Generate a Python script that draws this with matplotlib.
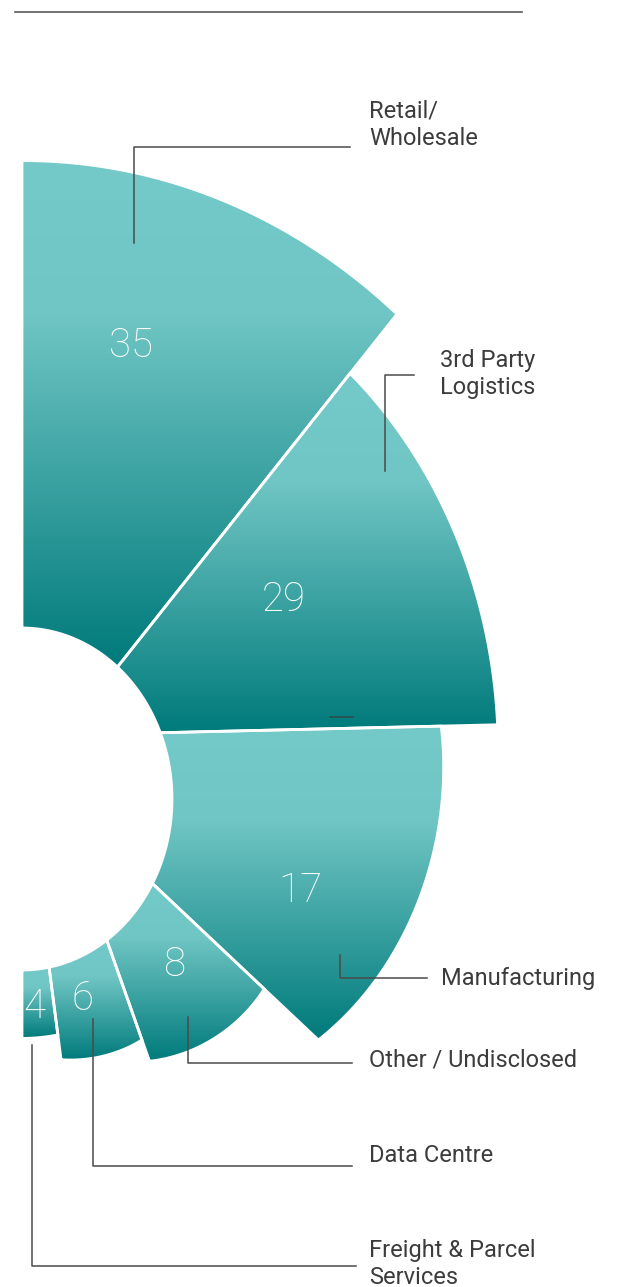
import numpy as np
import matplotlib.pyplot as plt
import matplotlib.transforms as mtransforms
from matplotlib.colors import LinearSegmentedColormap
from matplotlib.patches import Polygon

W, H = 617, 1287

sectors = ["Retail/\nWholesale", "3rd Party\nLogistics", "Manufacturing",
           "Other / Undisclosed", "Data Centre", "Freight & Parcel\nServices"]
values = [35, 29, 17, 8, 6, 4]

# wedge boundaries in degrees, clockwise from north:
# angle where the edge leaves the hole and angle where it meets the outer rim
edge_in = [0, 39.5, 67.2, 119.6, 145.6, 169.6, 180]
edge_out = [0, 41.4, 82.2, 125.5, 151.0, 170.3, 180]
edge_out_r = [560, 567, 480, 364, 263, 232, 210]
# rim radius at the start and end of each wedge
rim_start = [560, 497, 424, 294, 243, 210]
rim_end = [567, 480, 364, 263, 232, 210]
hole = 150

# where the numbers sit inside the wedges
num_theta = [15.4, 56.3, 106.2, 133.6, 160.9, 176.2]
num_r = [412, 315, 290, 211, 185, 183]

# callouts, pixel coords from top-left
leaders = [
    [(134, 243), (134, 147), (350, 147)],
    [(385, 471), (385, 375), (414, 375)],
    [(340, 955), (340, 978), (427, 978)],
    [(188, 1017), (188, 1063), (352, 1063)],
    [(93, 1019), (93, 1166), (352, 1166)],
    [(32, 1045), (32, 1266), (356, 1266)],
]
label_pos = [(369, 125), (440, 374), (441, 978), (369, 1060), (369, 1156), (369, 1264)]

cx, cy = 22, 799   # ring centre in pixels
ky = 1.14          # vertical stretch


def polar(r, deg):
    a = np.radians(deg)
    return np.array([r * np.sin(a), r * np.cos(a)])


def corner(j, r):
    # point on boundary line j at distance r from the centre
    p = polar(hole, edge_in[j])
    d = polar(edge_out_r[j], edge_out[j]) - p
    a, b, c = d @ d, 2 * (p @ d), p @ p - r * r
    t = (-b + np.sqrt(b * b - 4 * a * c)) / (2 * a)
    q = p + t * d
    return np.degrees(np.arctan2(q[0], q[1])) % 360


def wedge_xy(i, n=90):
    s = np.linspace(0, 1, n)
    a_in = edge_in[i] + (edge_in[i + 1] - edge_in[i]) * s
    a0, a1 = corner(i, rim_start[i]), corner(i + 1, rim_end[i])
    a_out = a0 + (a1 - a0) * s
    r_out = rim_start[i] + (rim_end[i] - rim_start[i]) * s ** 1.7
    inner = polar(hole, a_in)
    outer = polar(r_out, a_out)[:, ::-1]
    return np.concatenate([inner, outer], axis=1).T


fig = plt.figure(figsize=(W / 100, H / 100), dpi=100)
ax = fig.add_axes([0, 0, 1, 1])
px = mtransforms.Affine2D().scale(1 / W, -1 / H).translate(0, 1) + fig.transFigure

cmap = LinearSegmentedColormap.from_list(
    'teal', [(0, '#74cac8'), (0.3, '#70c6c4'), (1, '#007a7b')])
grad = np.linspace(0, 1, 256).reshape(-1, 1)

for i in range(len(values)):
    xy = wedge_xy(i)
    poly = Polygon(xy, closed=True, fc='none', ec='white', lw=2.0, zorder=3)
    ax.add_patch(poly)
    im = ax.imshow(grad, cmap=cmap, aspect='auto', origin='upper', zorder=2,
                   extent=(xy[:, 0].min(), xy[:, 0].max(), xy[:, 1].min(), xy[:, 1].max()))
    im.set_clip_path(poly)
    x, y = polar(num_r[i], num_theta[i])
    ax.text(x, y, str(values[i]), color='white', fontsize=29, family='Roboto',
            weight='light', ha='center', va='center', zorder=4)

ax.set_xlim(-cx, W - cx)
ax.set_ylim(-(H - cy) / ky, cy / ky)
ax.axis('off')

# callout lines and labels
for pts, (lx, ly), name in zip(leaders, label_pos, sectors):
    xs, ys = zip(*pts)
    ax.plot(xs, ys, color='#4a4a4a', lw=1.1, transform=px, zorder=5)
    ax.text(lx, ly, name, transform=px, fontsize=17, family='Roboto',
            color='#3c3c3c', ha='left', va='center', linespacing=1.25)

ax.plot([330, 353], [717, 717], color='#2f4f4f', lw=1.2, transform=px, zorder=5)
ax.plot([15, 522], [12, 12], color='#5a5a5a', lw=1.2, transform=px)

fig.savefig('out.png', dpi=100, facecolor='white')
